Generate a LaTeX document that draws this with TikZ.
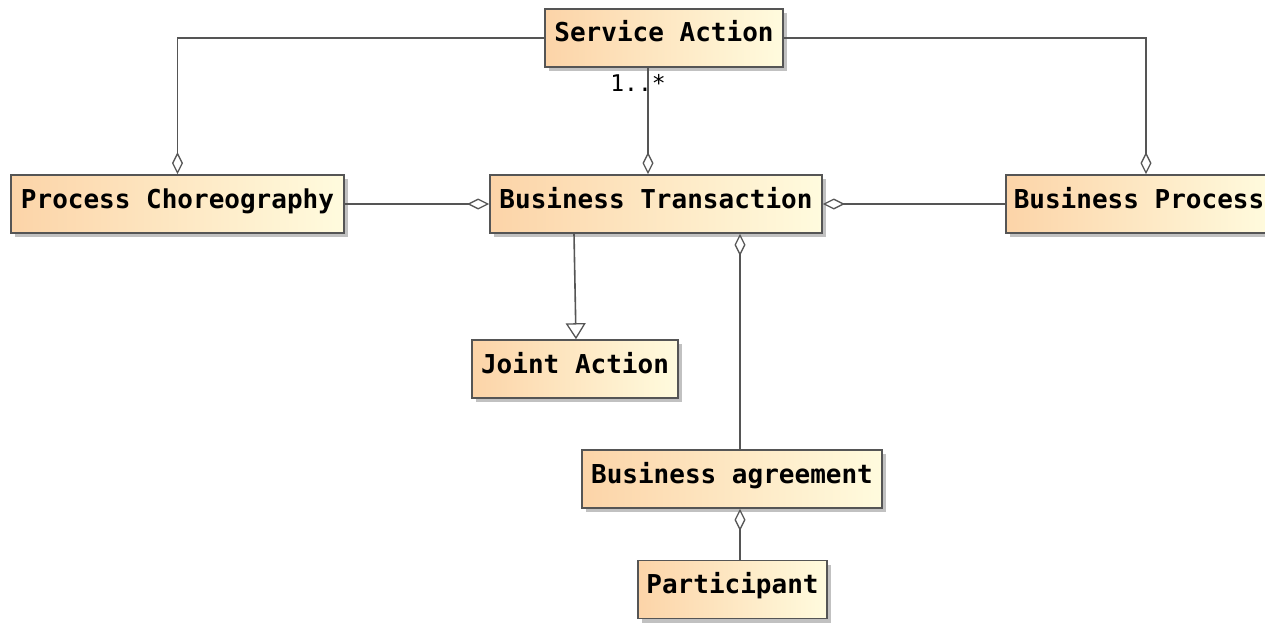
\documentclass[tikz,border=0pt]{standalone}
\usepackage{fontspec}
\setmonofont{DejaVu Sans Mono}
\usetikzlibrary{arrows.meta,shadows}
\definecolor{boxL}{RGB}{252,212,168}
\definecolor{boxR}{RGB}{255,251,222}
\definecolor{edge}{RGB}{85,85,85}
\tikzset{
  classbox/.style={draw=edge, line width=1.6pt, left color=boxL, right color=boxR,
    minimum height=58pt, inner xsep=6pt, inner ysep=8pt,
    text height=25pt, text depth=17pt,
    font=\fontsize{26pt}{28pt}\selectfont\ttfamily\bfseries,
    drop shadow={shadow xshift=4pt, shadow yshift=-4pt, fill=black!30, opacity=0.8}},
  link/.style={draw=edge, line width=1.6pt},
  agg/.style={link, -{Diamond[fill=white, length=22pt, width=11pt, line width=1.3pt]}},
  gen/.style={link, -{Triangle[fill=white, length=16pt, width=20pt, line width=1.3pt]}},
  mult/.style={font=\fontsize{23pt}{25pt}\selectfont\ttfamily, inner sep=0pt}
}
\begin{document}
\begin{tikzpicture}[x=1pt, y=-1pt]
\useasboundingbox (0,0) rectangle (1265,623);
\fill[white] (0,0) rectangle (1265,623);

\node[classbox, minimum width=238pt] (SA) at (664,38) {Service Action};
\node[classbox, minimum width=333pt] (PC) at (177.5,204) {Process Choreography};
\node[classbox, minimum width=332pt] (BT) at (656,204) {Business Transaction};
\node[classbox, minimum width=266pt] (BP) at (1139,204) {Business Process};
\node[classbox, minimum width=206pt] (JA) at (575,369) {Joint Action};
\node[classbox, minimum width=300pt] (BA) at (732,479) {Business agreement};
\node[classbox, minimum width=189pt] (PA) at (732.5,589.5) {Participant};

% associations (aggregation diamonds at the owning end)
\draw[agg] (SA.west) -| (PC.north);
\draw[agg] (SA.east) -| ([xshift=7pt]BP.north);
\draw[agg] ([xshift=-16pt]SA.south) -- ([xshift=-8pt]BT.north);
\draw[agg] (PC.east) -- (BT.west);
\draw[agg] (BP.west) -- (BT.east);
\draw[agg] ([xshift=8pt]BA.north) -- ([xshift=84pt]BT.south);
\draw[agg] ([xshift=7.5pt]PA.north) -- ([xshift=8pt]BA.south);

% generalization
\draw[gen] ([xshift=-82pt]BT.south) -- ([xshift=1pt]JA.north);

% multiplicity
\node[mult] (m1) at (638,83) {1..*};
\end{tikzpicture}
\end{document}
